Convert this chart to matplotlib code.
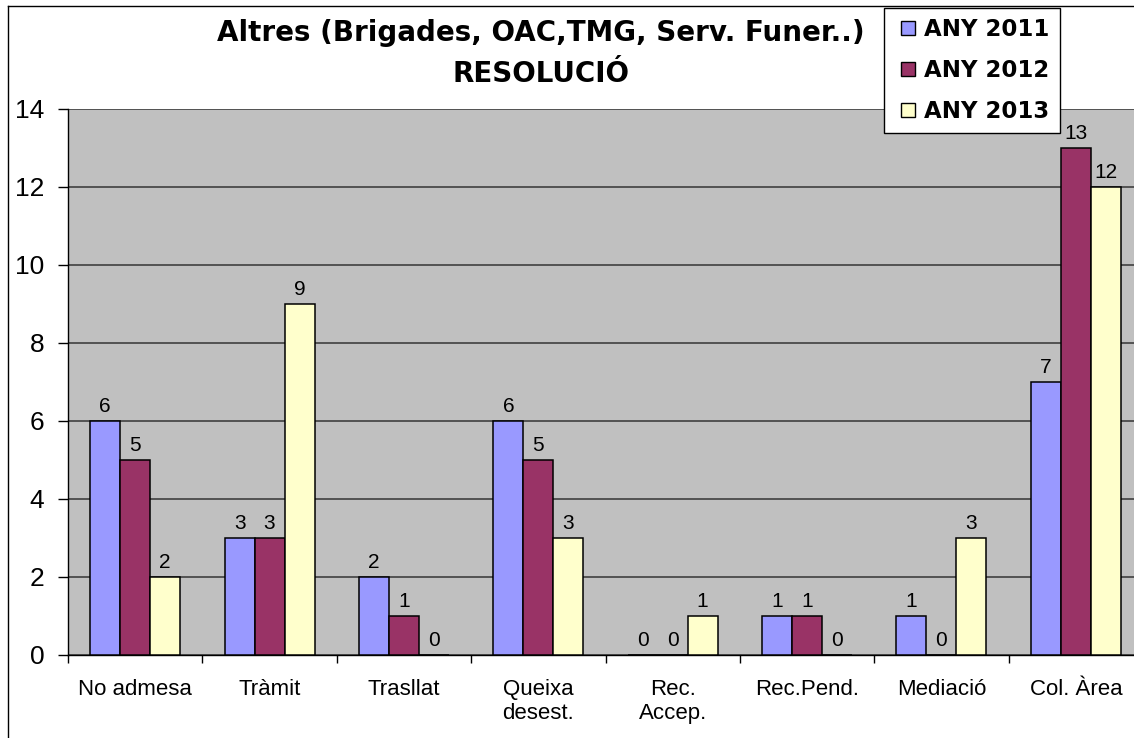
import numpy as np
import matplotlib.pyplot as plt
from matplotlib.lines import Line2D

plt.rcParams['font.family'] = ['Liberation Sans', 'DejaVu Sans']

categories = ['No admesa', 'Tràmit', 'Trasllat', 'Queixa\ndesest.', 'Rec.\nAccep.',
              'Rec.Pend.', 'Mediació', 'Col. Àrea']
any_2011 = [6, 3, 2, 6, 0, 1, 1, 7]
any_2012 = [5, 3, 1, 5, 0, 1, 0, 13]
any_2013 = [2, 9, 0, 3, 1, 0, 3, 12]
series_names = ['ANY 2011', 'ANY 2012', 'ANY 2013']
colors = ['#9999FF', '#993366', '#FFFFCC']

W, H = 1134, 738
fig = plt.figure(figsize=(W / 100, H / 100), dpi=100)
# plot area runs past the right edge of the picture, as in the original
ax = fig.add_axes([68 / W, 1 - 655 / H, 1075 / W, 546 / H])
ax.set_facecolor('#C0C0C0')

x = np.arange(len(categories))
w = 0.223
for i, (vals, c) in enumerate(zip([any_2011, any_2012, any_2013], colors)):
    pos = x + (i - 1) * w
    ax.bar(pos, vals, width=w, color=c, edgecolor='black', linewidth=1.1, zorder=3)
    for px, v in zip(pos, vals):
        ax.annotate(str(v), (px, v), xytext=(0, 10.5), textcoords='offset points',
                    ha='center', va='center', fontsize=15, zorder=4)

ax.set_xlim(-0.5, len(categories) - 0.5)
ax.set_ylim(0, 14)
ax.set_yticks(range(0, 15, 2))
ax.tick_params(axis='y', labelsize=19, direction='out', length=7, width=1, pad=10)
ax.set_xticks(np.arange(-0.5, len(categories), 1))
ax.set_xticklabels([])
ax.set_xticks(x, minor=True)
ax.set_xticklabels(categories, minor=True, fontsize=16)
ax.tick_params(axis='x', which='major', direction='out', length=6, width=1)
ax.tick_params(axis='x', which='minor', length=0, pad=17)
ax.grid(axis='y', color='#404040', linewidth=1.2, zorder=1)
ax.set_axisbelow(True)
for s in ['top', 'right']:
    ax.spines[s].set_visible(False)
ax.spines['left'].set_linewidth(1)
ax.spines['bottom'].set_linewidth(1)

title_font = dict(family='DejaVu Sans', fontsize=20, fontweight='bold')
fig.text(541 / W, 1 - 33 / H, 'Altres (Brigades, OAC,TMG, Serv. Funer..)',
         ha='center', va='center', **title_font)
fig.text(541 / W, 1 - 74 / H, 'RESOLUCIÓ', ha='center', va='center', **title_font)

handles = [Line2D([], [], linestyle='none', marker='s', markersize=10.5,
                  markerfacecolor=c, markeredgecolor='black', markeredgewidth=1)
           for c in colors]
leg = fig.legend(handles, series_names, loc='upper left',
                 bbox_to_anchor=(884 / W, 1 - 8 / H),
                 prop={'family': 'DejaVu Sans', 'weight': 'bold', 'size': 16.5},
                 fancybox=False, edgecolor='black', framealpha=1,
                 handlelength=1.2, handletextpad=0.1,
                 labelspacing=0.78, borderpad=0.45, borderaxespad=0)
leg.get_frame().set_linewidth(1)

# outer chart frame (only top and left edges are inside the picture)
fig.add_artist(Line2D([8 / W, 1], [1 - 6 / H] * 2, transform=fig.transFigure,
                      color='black', linewidth=1))
fig.add_artist(Line2D([8 / W] * 2, [0, 1 - 6 / H], transform=fig.transFigure,
                      color='black', linewidth=1))

fig.savefig('out.png', dpi=100)
